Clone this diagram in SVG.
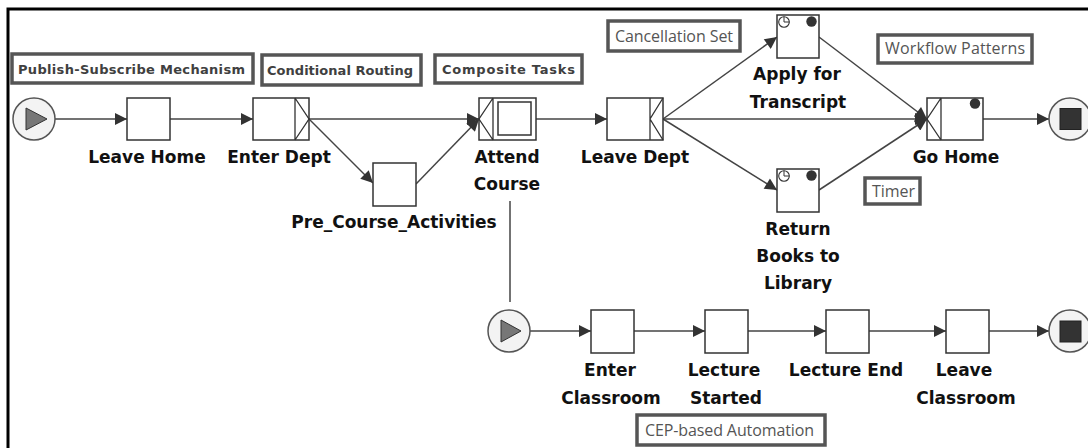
<svg xmlns="http://www.w3.org/2000/svg" width="1088" height="448" viewBox="0 0 1088 448">
  <style>
    .task { fill: #ffffff; stroke: #333333; stroke-width: 1.5; }
    .deco { fill: none; stroke: #333333; stroke-width: 1.3; }
    .cond { fill: #f3f3f3; stroke: #555555; stroke-width: 1.5; }
    .flow { fill: none; stroke: #444444; stroke-width: 1.5; }
    .name { font-family: "DejaVu Sans", Verdana, sans-serif; font-weight: bold; font-size: 17px; fill: #111111; text-anchor: middle; }
    .tag { fill: #ffffff; stroke: #555555; stroke-width: 3.5; }
    .tagb { font-family: "DejaVu Sans", Verdana, sans-serif; font-weight: bold; font-size: 13px; fill: #404040; }
    .tagl { font-family: "Open Sans", "Noto Sans", sans-serif; font-size: 16px; fill: #555555; }
    .dot { fill: #333333; }
    .clock { fill: #ffffff; stroke: #333333; stroke-width: 1.1; }
  </style>
  <defs>
    <marker id="arrow" viewBox="0 0 12 12" refX="12" refY="6" markerWidth="13" markerHeight="12" markerUnits="userSpaceOnUse" orient="auto">
      <path d="M0,0 L12,6 L0,12 z" fill="#333333"/>
    </marker>
  </defs>

  <rect width="1088" height="448" fill="#ffffff"/>
  <!-- frame -->
  <path d="M8,448 V9 H1088" fill="none" stroke="#000000" stroke-width="3"/>

  <!-- annotation labels -->
  <g id="label-publish-subscribe">
    <rect class="tag" x="12" y="54" width="241" height="29"/>
    <text class="tagb" x="18" y="74" textLength="227" lengthAdjust="spacing">Publish-Subscribe Mechanism</text>
  </g>
  <g id="label-conditional-routing">
    <rect class="tag" x="262" y="55" width="159" height="30"/>
    <text class="tagb" x="267" y="75" textLength="146" lengthAdjust="spacing">Conditional Routing</text>
  </g>
  <g id="label-composite-tasks">
    <rect class="tag" x="435" y="55" width="147" height="28"/>
    <text class="tagb" x="442" y="74" textLength="133" lengthAdjust="spacing">Composite Tasks</text>
  </g>
  <g id="label-cancellation-set">
    <rect class="tag" x="608" y="21" width="132" height="30"/>
    <text class="tagl" x="615" y="42" textLength="118" lengthAdjust="spacing">Cancellation Set</text>
  </g>
  <g id="label-workflow-patterns">
    <rect class="tag" x="878" y="35" width="154" height="28"/>
    <text class="tagl" x="885" y="54" textLength="140" lengthAdjust="spacing">Workflow Patterns</text>
  </g>
  <g id="label-timer">
    <rect class="tag" x="865" y="178" width="55" height="26"/>
    <text class="tagl" x="872" y="197" textLength="43" lengthAdjust="spacing">Timer</text>
  </g>
  <g id="label-cep">
    <rect class="tag" x="637" y="415" width="188" height="30"/>
    <text class="tagl" x="645" y="436" textLength="169" lengthAdjust="spacing">CEP-based Automation</text>
  </g>

  <!-- connectors -->
  <g id="connectors">
    <line class="flow" x1="55" y1="119" x2="127" y2="119" marker-end="url(#arrow)"/>
    <line class="flow" x1="170" y1="119" x2="253" y2="119" marker-end="url(#arrow)"/>
    <line class="flow" x1="309" y1="119" x2="479" y2="119" marker-end="url(#arrow)"/>
    <line class="flow" x1="309" y1="119" x2="373" y2="183" marker-end="url(#arrow)"/>
    <line class="flow" x1="416" y1="184" x2="479" y2="119" marker-end="url(#arrow)"/>
    <line class="flow" x1="536" y1="119" x2="607" y2="119" marker-end="url(#arrow)"/>
    <line class="flow" x1="663" y1="119" x2="777" y2="37" marker-end="url(#arrow)"/>
    <line class="flow" x1="663" y1="119" x2="927" y2="119" marker-end="url(#arrow)"/>
    <line class="flow" x1="663" y1="119" x2="777" y2="190" marker-end="url(#arrow)"/>
    <line class="flow" x1="819" y1="37" x2="927" y2="119" marker-end="url(#arrow)"/>
    <line class="flow" x1="819" y1="190" x2="927" y2="119" marker-end="url(#arrow)"/>
    <line class="flow" x1="983" y1="119" x2="1049" y2="119" marker-end="url(#arrow)"/>
    <line class="flow" x1="510" y1="201" x2="510" y2="302"/>
    <line class="flow" x1="530" y1="331" x2="591" y2="331" marker-end="url(#arrow)"/>
    <line class="flow" x1="634" y1="331" x2="705" y2="331" marker-end="url(#arrow)"/>
    <line class="flow" x1="748" y1="331" x2="826" y2="331" marker-end="url(#arrow)"/>
    <line class="flow" x1="869" y1="331" x2="946" y2="331" marker-end="url(#arrow)"/>
    <line class="flow" x1="989" y1="331" x2="1049" y2="331" marker-end="url(#arrow)"/>
  </g>

  <!-- main net -->
  <g id="start-main">
    <circle class="cond" cx="34" cy="119" r="21"/>
    <path d="M26,108 L47,119 L26,130 z" fill="#777777" stroke="#333333" stroke-width="1"/>
  </g>
  <g id="task-leave-home">
    <rect class="task" x="127" y="98" width="43" height="42"/>
    <text class="name" x="147" y="163">Leave Home</text>
  </g>
  <g id="task-enter-dept">
    <rect class="task" x="253" y="98" width="56" height="42"/>
    <path class="deco" d="M295,98 V140 M295,98 L309,119 L295,140"/>
    <text class="name" x="279" y="163">Enter Dept</text>
  </g>
  <g id="task-pre-course">
    <rect class="task" x="373" y="163" width="43" height="43"/>
    <text class="name" x="394" y="228">Pre_Course_Activities</text>
  </g>
  <g id="task-attend-course">
    <rect class="task" x="479" y="98" width="57" height="42"/>
    <path class="deco" d="M493,98 V140 M493,98 L479,119 L493,140"/>
    <rect class="task" x="498" y="102" width="33" height="33"/>
    <text class="name" x="507" y="162.5">Attend</text>
    <text class="name" x="507" y="190">Course</text>
  </g>
  <g id="task-leave-dept">
    <rect class="task" x="607" y="98" width="56" height="42"/>
    <path class="deco" d="M650,98 V140 M663,98 L650,119 L663,140"/>
    <text class="name" x="635" y="162.5">Leave Dept</text>
  </g>
  <g id="task-apply-transcript">
    <rect class="task" x="777" y="15" width="42" height="43"/>
    <circle class="clock" cx="784" cy="22" r="5.3"/>
    <path d="M784,22 V16.7 M784,22 H789.3" fill="none" stroke="#333333" stroke-width="1"/>
    <circle class="dot" cx="811.5" cy="21.5" r="5.2"/>
    <text class="name" x="797" y="80">Apply for</text>
    <text class="name" x="798" y="107.5">Transcript</text>
  </g>
  <g id="task-return-books">
    <rect class="task" x="777" y="169" width="42" height="43"/>
    <circle class="clock" cx="784" cy="176" r="5.3"/>
    <path d="M784,176 V170.7 M784,176 H789.3" fill="none" stroke="#333333" stroke-width="1"/>
    <circle class="dot" cx="811.5" cy="175.5" r="5.2"/>
    <text class="name" x="798" y="234.5">Return</text>
    <text class="name" x="798" y="262">Books to</text>
    <text class="name" x="798" y="289">Library</text>
  </g>
  <g id="task-go-home">
    <rect class="task" x="927" y="98" width="56" height="42"/>
    <path class="deco" d="M941,98 V140 M941,98 L927,119 L941,140"/>
    <circle class="dot" cx="975" cy="103.5" r="5.2"/>
    <text class="name" x="956" y="162.5">Go Home</text>
  </g>
  <g id="end-main">
    <circle class="cond" cx="1070" cy="119" r="21"/>
    <rect x="1060" y="108.5" width="21" height="21" fill="#333333" stroke="#222222" stroke-width="1"/>
  </g>

  <!-- Attend Course sub-net -->
  <g id="start-sub">
    <circle class="cond" cx="509" cy="331" r="21"/>
    <path d="M501,320 L521,331 L501,342 z" fill="#777777" stroke="#333333" stroke-width="1"/>
  </g>
  <g id="task-enter-classroom">
    <rect class="task" x="591" y="310" width="43" height="43"/>
    <text class="name" x="610" y="376">Enter</text>
    <text class="name" x="611" y="403.5">Classroom</text>
  </g>
  <g id="task-lecture-started">
    <rect class="task" x="705" y="310" width="43" height="43"/>
    <text class="name" x="724" y="376">Lecture</text>
    <text class="name" x="726" y="403.5">Started</text>
  </g>
  <g id="task-lecture-end">
    <rect class="task" x="826" y="310" width="43" height="43"/>
    <text class="name" x="846" y="376">Lecture End</text>
  </g>
  <g id="task-leave-classroom">
    <rect class="task" x="946" y="310" width="43" height="43"/>
    <text class="name" x="964" y="376">Leave</text>
    <text class="name" x="966" y="403.5">Classroom</text>
  </g>
  <g id="end-sub">
    <circle class="cond" cx="1070" cy="331" r="21"/>
    <rect x="1060" y="321" width="21" height="21" fill="#333333" stroke="#222222" stroke-width="1"/>
  </g>
</svg>
